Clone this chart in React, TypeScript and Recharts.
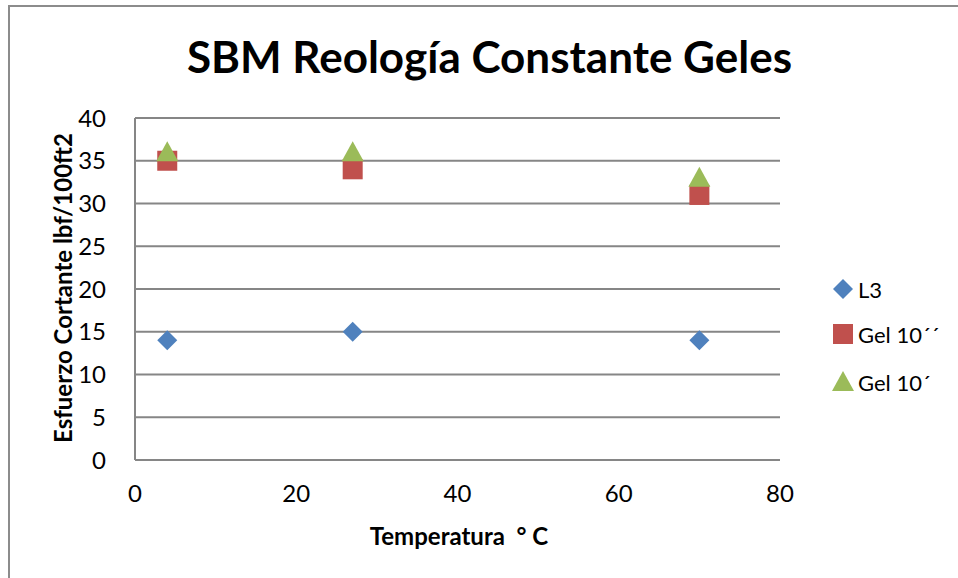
import React from "react";
import { ScatterChart, Scatter, XAxis, YAxis, CartesianGrid, ZAxis } from "recharts";

const temperatures = [4, 27, 70];
const l3Values = [14, 15, 14];
const gel10sValues = [35, 34, 31];
const gel10mValues = [36, 36, 33];
const xTicks = [0, 20, 40, 60, 80];
const yTicks = [0, 5, 10, 15, 20, 25, 30, 35, 40];

const toPoints = (vals: number[]) => temperatures.map((t, i) => ({ x: t, y: vals[i] }));

const series = [
  { name: "L3", color: "#4F81BD", kind: "diamond", data: toPoints(l3Values) },
  { name: "Gel 10´´", color: "#C0504D", kind: "square", data: toPoints(gel10sValues) },
  { name: "Gel 10´", color: "#9BBB59", kind: "triangle", data: toPoints(gel10mValues) },
];

const FONT = "Lato, 'Open Sans', sans-serif";
const GRID = "#868686";

function Marker({ kind, cx, cy, color }: { kind: string; cx: number; cy: number; color: string }) {
  if (kind === "diamond") {
    const r = 10;
    return <polygon points={`${cx},${cy - r} ${cx + r},${cy} ${cx},${cy + r} ${cx - r},${cy}`} fill={color} />;
  }
  if (kind === "square") {
    return <rect x={cx - 10} y={cy - 10} width={20} height={20} fill={color} />;
  }
  return <polygon points={`${cx},${cy - 11} ${cx + 11},${cy + 9} ${cx - 11},${cy + 9}`} fill={color} />;
}

export default function App() {
  return (
    <div style={{ position: "absolute", left: 0, top: 0, width: 958, height: 578, overflow: "hidden", background: "#fff" }}>
      <div
        style={{
          position: "absolute",
          left: 8,
          top: 5,
          width: 1000,
          height: 600,
          border: "2px solid #8c8c8c",
          boxSizing: "border-box",
        }}
      />
      <div
        style={{
          position: "absolute",
          left: 0,
          width: 979,
          top: 30,
          textAlign: "center",
          fontFamily: FONT,
          fontWeight: 700,
          fontSize: 44,
          color: "#000",
        }}
      >
        SBM Reología Constante Geles
      </div>
      <div style={{ position: "absolute", left: 0, top: 0 }}>
        <ScatterChart width={958} height={578} margin={{ top: 118, right: 178, bottom: 0, left: 0 }}>
          <CartesianGrid horizontal vertical={false} stroke={GRID} strokeWidth={2} />
          <XAxis
            type="number"
            dataKey="x"
            domain={[0, 80]}
            ticks={xTicks}
            height={118}
            tickLine={false}
            tickSize={0}
            tickMargin={25}
            axisLine={{ stroke: GRID, strokeWidth: 2 }}
            tick={{ fill: "#000", fontSize: 24, fontFamily: FONT }}
          />
          <YAxis
            type="number"
            dataKey="y"
            domain={[0, 40]}
            ticks={yTicks}
            width={135}
            tickLine={false}
            tickSize={0}
            tickMargin={29}
            axisLine={{ stroke: GRID, strokeWidth: 2 }}
            tick={{ fill: "#000", fontSize: 24, fontFamily: FONT }}
          />
          <ZAxis range={[400, 400]} />
          {series.map((s) => (
            <Scatter
              key={s.name}
              name={s.name}
              data={s.data}
              fill={s.color}
              isAnimationActive={false}
              shape={(p: any) => <Marker kind={s.kind} cx={p.cx} cy={p.cy} color={s.color} />}
            />
          ))}
        </ScatterChart>
      </div>
      <div
        style={{
          position: "absolute",
          left: 62,
          top: 288,
          transform: "translate(-50%, -50%) rotate(-90deg)",
          whiteSpace: "nowrap",
          fontFamily: FONT,
          fontWeight: 700,
          fontSize: 24,
          color: "#000",
        }}
      >
        Esfuerzo Cortante lbf/100ft2
      </div>
      <div
        style={{
          position: "absolute",
          left: 459,
          top: 535,
          transform: "translate(-50%, -50%)",
          whiteSpace: "pre",
          fontFamily: FONT,
          fontWeight: 700,
          fontSize: 24,
          color: "#000",
        }}
      >
        {"Temperatura  ° C"}
      </div>
      {series.map((s, i) => (
        <div
          key={s.name}
          style={{
            position: "absolute",
            left: 831,
            top: [289, 334, 382][i] - 15,
            height: 30,
            display: "flex",
            alignItems: "center",
            fontFamily: FONT,
            fontSize: 22,
            color: "#000",
            whiteSpace: "nowrap",
          }}
        >
          <svg width={24} height={24} style={{ marginRight: 3 }}>
            <Marker kind={s.kind} cx={12} cy={12} color={s.color} />
          </svg>
          {s.name}
        </div>
      ))}
    </div>
  );
}
